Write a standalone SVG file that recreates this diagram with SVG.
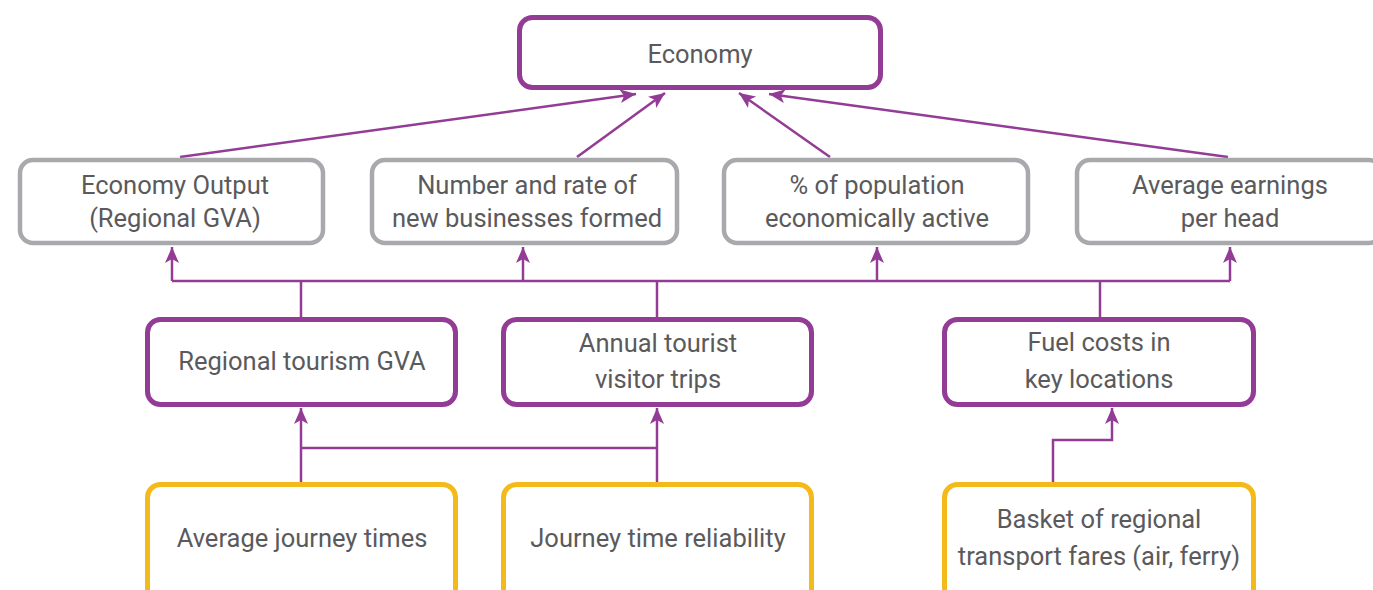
<svg xmlns="http://www.w3.org/2000/svg" width="1373" height="590" viewBox="0 0 1373 590">
  <style>
    .box { fill: #ffffff; stroke-width: 5; }
    .top { stroke: #933c95; }
    .kpi { stroke: #a8a9ac; stroke-width: 4.5; }
    .mid { stroke: #933c95; }
    .src { stroke: #f4ba1b; }
    .lbl { font-family: Roboto, "Liberation Sans", sans-serif; font-size: 25.5px; fill: #5a5a5c; text-anchor: middle; }
    .link { fill: none; stroke: #933c95; stroke-width: 2.5; }
    .arrow { marker-end: url(#head); }
  </style>
  <defs>
    <marker id="head" markerUnits="userSpaceOnUse" markerWidth="20" markerHeight="16" refX="16" refY="7" orient="auto">
      <path d="M0,0 L16,7 L0,14 L4,7 z" fill="#933c95"/>
    </marker>
  </defs>

  <rect width="1373" height="590" fill="#ffffff"/>

  <!-- connectors -->
  <g id="connectors">
    <path class="link arrow" d="M180,157 L636,94"/>
    <path class="link arrow" d="M577,157 L665,93"/>
    <path class="link arrow" d="M830,157 L739,93"/>
    <path class="link arrow" d="M1228,157 L769,94"/>

    <path class="link" d="M172,281 H1230"/>
    <path class="link arrow" d="M172,281 V247"/>
    <path class="link arrow" d="M523,281 V247"/>
    <path class="link arrow" d="M877,281 V247"/>
    <path class="link arrow" d="M1230,281 V247"/>
    <path class="link" d="M301,318 V281"/>
    <path class="link" d="M657,318 V281"/>
    <path class="link" d="M1100,318 V281"/>

    <path class="link" d="M301,448 H657"/>
    <path class="link arrow" d="M301,482 V408"/>
    <path class="link arrow" d="M657,482 V408"/>
    <path class="link arrow" d="M1053,482 V440 H1112 V408"/>
  </g>

  <!-- top level -->
  <g id="economy">
    <rect class="box top" x="519.5" y="17.5" width="361" height="70" rx="13"/>
    <text class="lbl" x="700" y="63">Economy</text>
  </g>

  <!-- indicators -->
  <g id="economy-output">
    <rect class="box kpi" x="20" y="160" width="303" height="83" rx="13"/>
    <text class="lbl" x="175" y="194">Economy Output</text>
    <text class="lbl" x="175" y="227">(Regional GVA)</text>
  </g>
  <g id="new-businesses">
    <rect class="box kpi" x="372" y="160" width="305" height="83" rx="13"/>
    <text class="lbl" x="527" y="194">Number and rate of</text>
    <text class="lbl" x="527" y="227">new businesses formed</text>
  </g>
  <g id="population-active">
    <rect class="box kpi" x="724" y="160" width="304" height="83" rx="13"/>
    <text class="lbl" x="877" y="194">% of population</text>
    <text class="lbl" x="877" y="227">economically active</text>
  </g>
  <g id="average-earnings">
    <rect class="box kpi" x="1077" y="160" width="305" height="83" rx="13"/>
    <text class="lbl" x="1230" y="194">Average earnings</text>
    <text class="lbl" x="1230" y="227">per head</text>
  </g>

  <!-- intermediate measures -->
  <g id="tourism-gva">
    <rect class="box mid" x="147.5" y="319.5" width="308" height="85" rx="13"/>
    <text class="lbl" x="302" y="370">Regional tourism GVA</text>
  </g>
  <g id="visitor-trips">
    <rect class="box mid" x="503.5" y="319.5" width="308" height="85" rx="13"/>
    <text class="lbl" x="658" y="352">Annual tourist</text>
    <text class="lbl" x="658" y="388">visitor trips</text>
  </g>
  <g id="fuel-costs">
    <rect class="box mid" x="944.5" y="319.5" width="309" height="85" rx="13"/>
    <text class="lbl" x="1099" y="351">Fuel costs in</text>
    <text class="lbl" x="1099" y="388">key locations</text>
  </g>

  <!-- transport inputs -->
  <g id="journey-times">
    <rect class="box src" x="147.5" y="484.5" width="308" height="130" rx="13"/>
    <text class="lbl" x="302" y="547">Average journey times</text>
  </g>
  <g id="journey-reliability">
    <rect class="box src" x="503.5" y="484.5" width="308" height="130" rx="13"/>
    <text class="lbl" x="658" y="547">Journey time reliability</text>
  </g>
  <g id="transport-fares">
    <rect class="box src" x="944.5" y="484.5" width="309" height="130" rx="13"/>
    <text class="lbl" x="1099" y="528">Basket of regional</text>
    <text class="lbl" x="1099" y="565">transport fares (air, ferry)</text>
  </g>
</svg>
